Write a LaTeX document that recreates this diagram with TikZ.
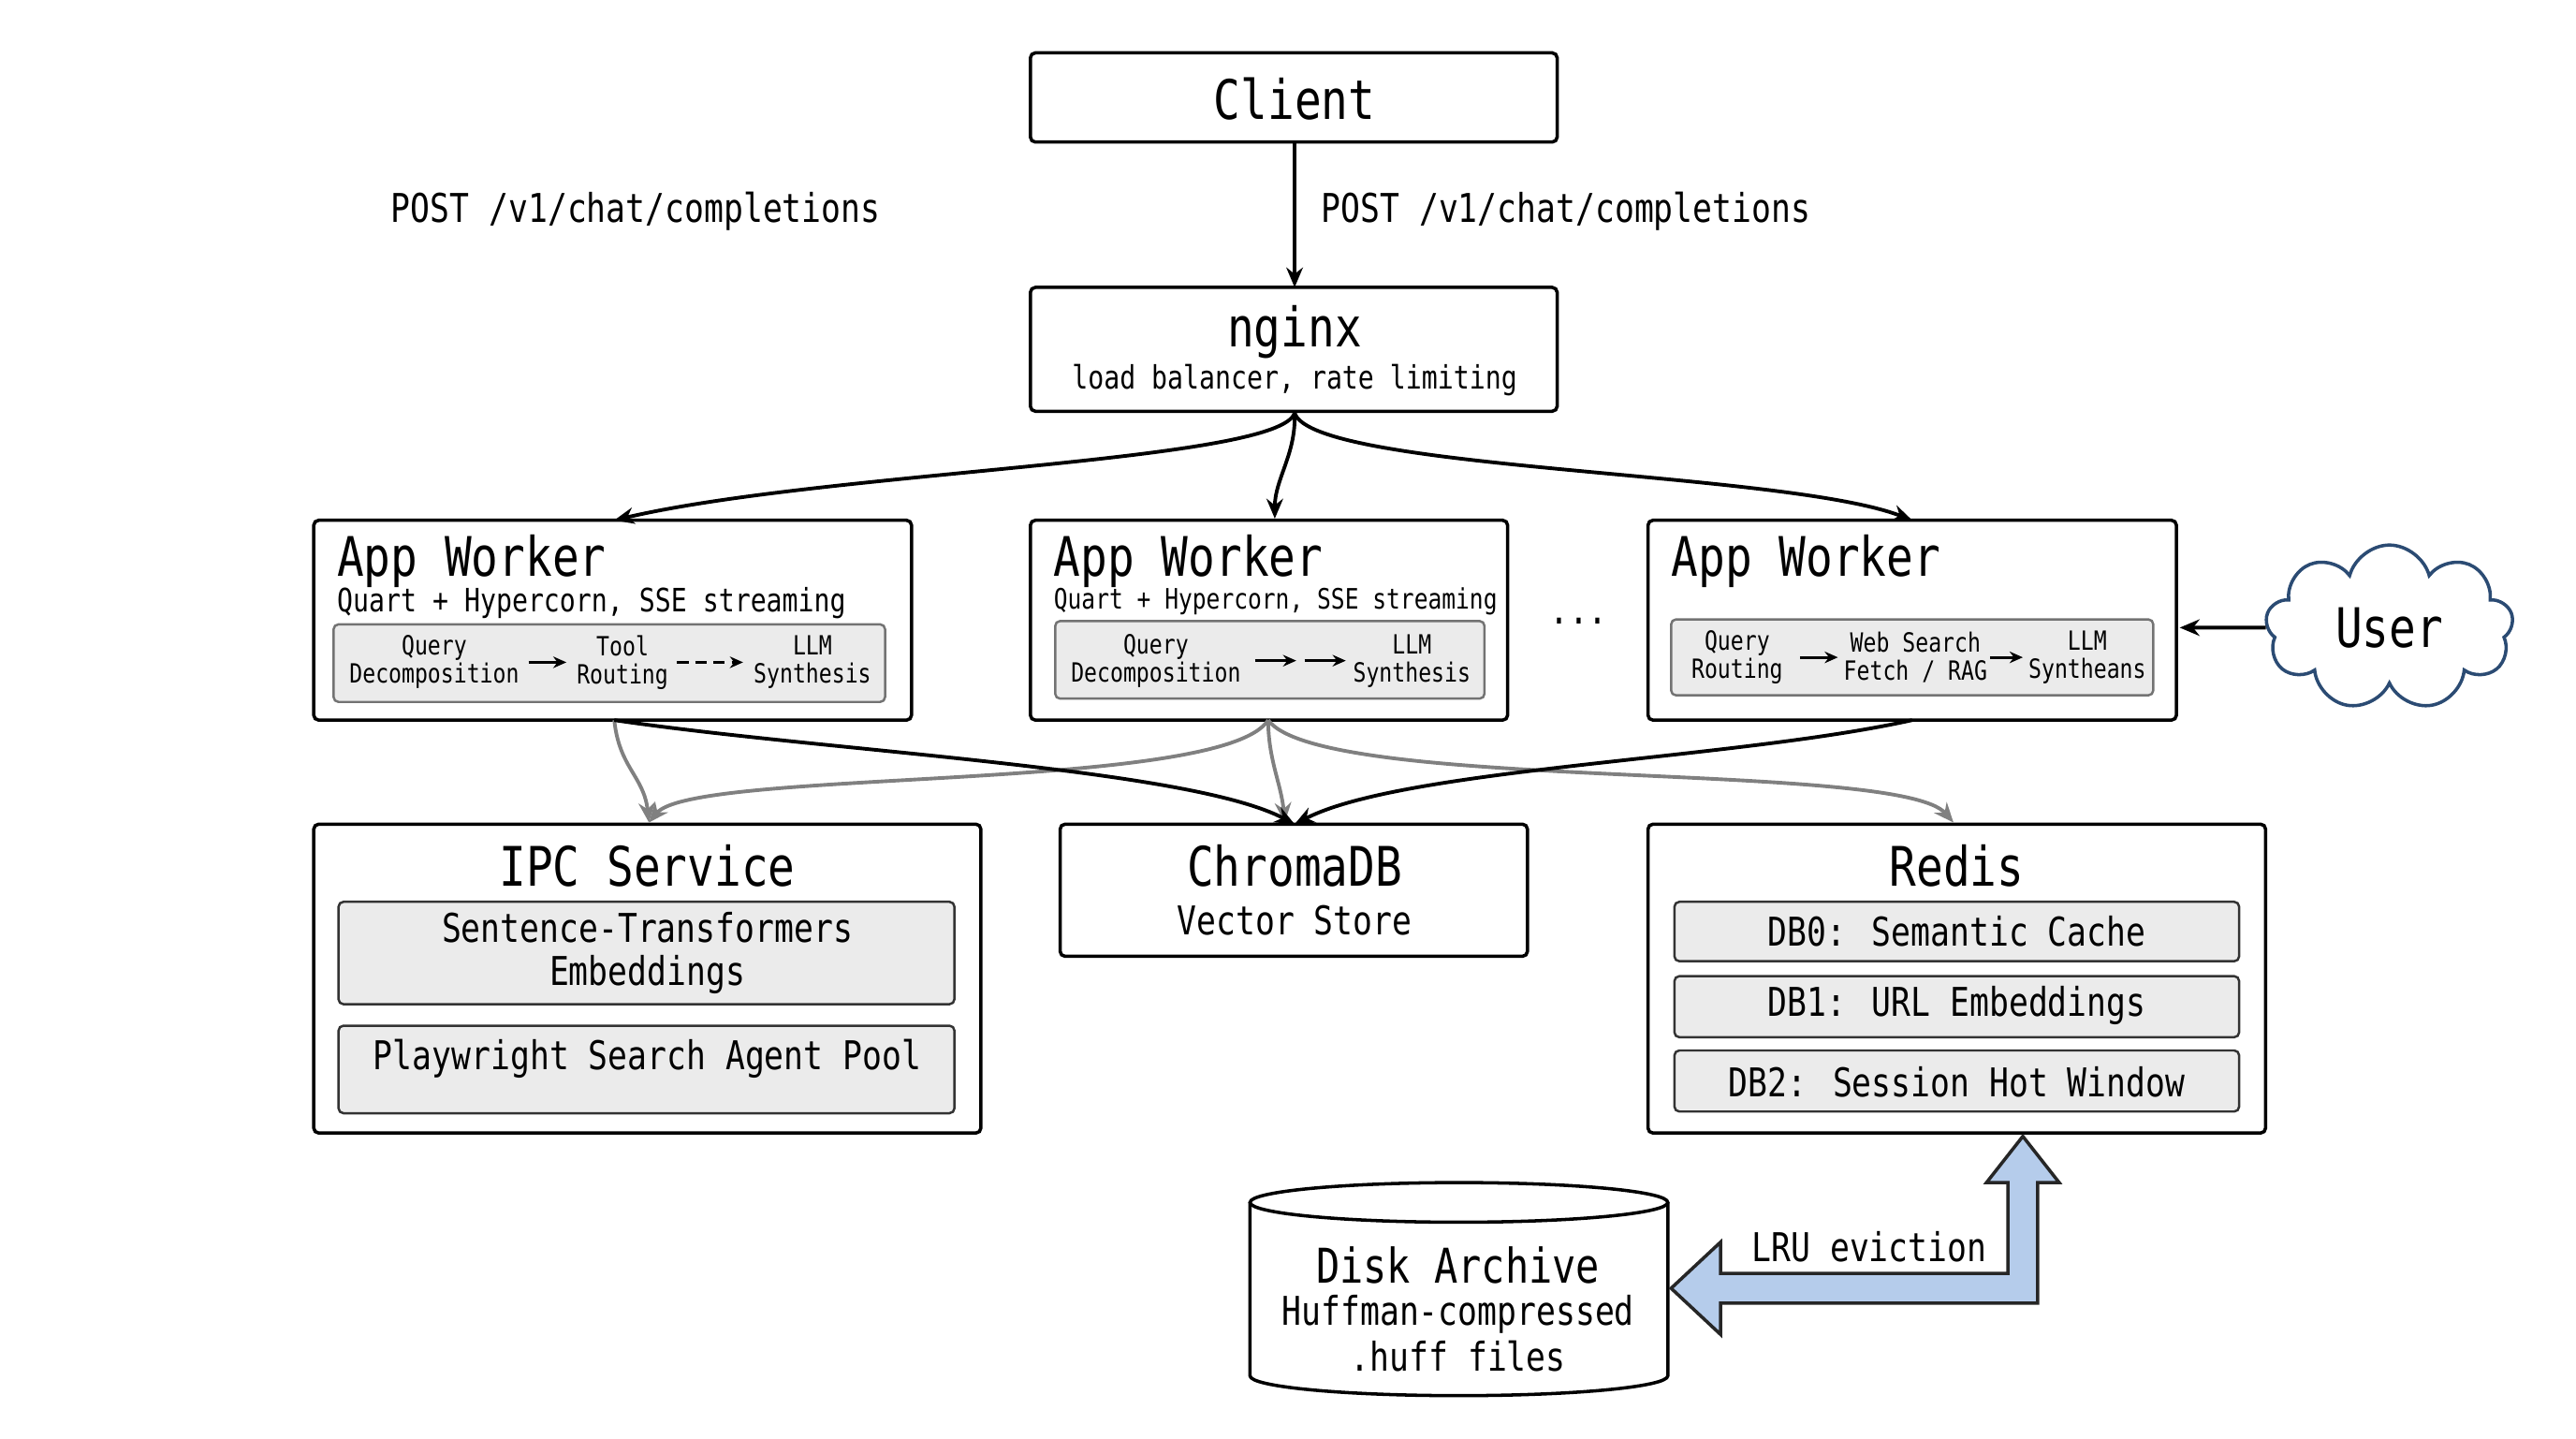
\documentclass[tikz,border=0pt]{standalone}
\usepackage{fontspec}
\setmainfont{DejaVu Sans Mono}[FakeStretch=0.82]
\usetikzlibrary{shapes.symbols,shapes.geometric,shapes.arrows,arrows.meta}
\definecolor{navy}{HTML}{2B4B73}
\definecolor{lblue}{HTML}{B5CCEB}
\begin{document}
\begin{tikzpicture}[x=1pt,y=-1pt,
  box/.style={draw,line width=2pt,rounded corners=3pt,fill=white},
  inner/.style={draw=black!55,line width=1.4pt,rounded corners=3pt,fill=black!8},
  stg/.style={font=\fontsize{16}{17}\selectfont,align=center,inner sep=0pt},
  sarr/.style={-{Stealth[length=8pt,width=7pt]},line width=1.6pt},
  blk/.style={-{Stealth[length=12pt,width=10pt]},line width=2.2pt},
  gry/.style={-{Stealth[length=12pt,width=10pt]},line width=2.2pt,draw=black!50},
  t1/.style={font=\fontsize{33}{35}\selectfont,inner sep=0pt},
  t2/.style={font=\fontsize{24}{26}\selectfont,inner sep=0pt},
  t3/.style={font=\fontsize{19.5}{21}\selectfont,inner sep=0pt}]
\useasboundingbox (0,0) rectangle (1560,871);
% boxes
\draw[box] (624,32) rectangle (943,86); \node[t1] (client) at (784,60) {Client};
\coordinate (cb) at (784,86);
\draw[box] (624,174) rectangle (943,249);
\node[t1] (ngx) at (784,201) {nginx};
\node[t3] at (784,230) {load balancer, rate limiting};
\coordinate (nt) at (784,174); \coordinate (nb) at (784,250);
\node[t2] at (385,128) {POST /v1/chat/completions};
\node[t2,anchor=west] at (800,128) {POST /v1/chat/completions};
% worker 1
\draw[box] (190,315) rectangle (552,436);
\node[t1,anchor=west] at (204,340) {App Worker};
\node[t3,anchor=west] at (204,365) {Quart + Hypercorn, SSE streaming};
\draw[inner] (202,378) rectangle (536,425);
\node[stg] (a1) at (263,401) {Query\\Decomposition};
\node[stg] (a2) at (377,401) {Tool\\Routing};
\node[stg] (a3) at (492,401) {LLM\\Synthesis};
\draw[sarr] (320,401) -- (343,401);
\draw[sarr,dash pattern=on 7pt off 4pt] (410,401) -- (450,401);
% worker 2
\draw[box] (624,315) rectangle (913,436);
\node[t1,anchor=west] at (638,340) {App Worker};
\node[t3,anchor=west] at (638,364) {\fontsize{17}{18}\selectfont Quart + Hypercorn, SSE streaming};
\draw[inner] (639,376) rectangle (899,423);
\node[stg] (b1) at (700,400) {Query\\Decomposition};
\node[stg] (b3) at (855,400) {LLM\\Synthesis};
\draw[sarr] (760,400) -- (785,400);
\draw[sarr] (790,400) -- (815,400);
\node[t2] (dots) at (956,376) {...};
% worker 3
\draw[box] (998,315) rectangle (1318,436);
\node[t1,anchor=west] at (1012,340) {App Worker};
\draw[inner] (1012,375) rectangle (1304,421);
\node[stg] (c1) at (1052,398) {Query\\Routing};
\node[stg] (c2) at (1160,398) {Web Search\\Fetch / RAG};
\node[stg] (c3) at (1264,398) {LLM\\Syntheans};
\draw[sarr] (1090,398) -- (1113,398);
\draw[sarr] (1205,398) -- (1225,398);
\node[cloud,cloud puffs=9,aspect=1.45,draw=navy,line width=2pt,minimum width=150pt,minimum height=100pt,t1,fill=white] (user) at (1447,380) {User};
\draw[blk] (user.west) -- (1320,380);
% IPC
\draw[box] (190,499) rectangle (594,686);
\node[t1] (ipc) at (392,524) {IPC Service};
\draw[inner,draw=black!80] (205,546) rectangle (578,608);
\node[t2,align=center] at (392,577) {Sentence-Transformers\\Embeddings};
\draw[inner,draw=black!80] (205,621) rectangle (578,674);
\node[t2] at (392,641) {Playwright Search Agent Pool};
% Chroma
\draw[box] (642,499) rectangle (925,579);
\node[t1] (chroma) at (784,524) {ChromaDB};
\node[t2] at (784,557) {Vector Store};
% Redis
\draw[box] (998,499) rectangle (1372,686);
\node[t1] (redis) at (1185,524) {Redis};
\draw[inner,draw=black!80] (1014,546) rectangle (1356,582); \node[t2] at (1185,564) {DB0: Semantic Cache};
\draw[inner,draw=black!80] (1014,591) rectangle (1356,628); \node[t2] at (1185,609) {DB1: URL Embeddings};
\draw[inner,draw=black!80] (1014,636) rectangle (1356,673); \node[t2] at (1185,655) {DB2: Session Hot Window};
% edges
\draw[blk] (cb) -- (nt);
\draw[blk] (nb) .. controls (775,280) and (500,285) .. (372,315);
\draw[blk] (nb) .. controls (785,275) and (772,290) .. (772,314);
\draw[blk] (nb) .. controls (795,285) and (1080,285) .. (1158,315);
\draw[gry] (372,436) .. controls (375,465) and (390,470) .. (393,498);
\draw[gry] (768,436) .. controls (740,480) and (420,465) .. (393,498);
\draw[gry] (768,436) .. controls (768,460) and (776,475) .. (778,498);
\draw[gry] (768,436) .. controls (800,480) and (1150,460) .. (1183,498);
\draw[blk] (372,436) .. controls (500,455) and (720,465) .. (784,499);
\draw[blk] (1158,436) .. controls (1050,460) and (850,465) .. (784,499);
% disk
\draw[line width=2pt,fill=white] (757,728) -- (757,833) arc[start angle=180,end angle=360,x radius=126.5,y radius=-12] -- (1010,728);
\draw[line width=2pt,fill=white] (883.5,728) ellipse[x radius=126.5,y radius=12];
\node[t1,font=\fontsize{29}{31}\selectfont] (disk) at (883,766) {Disk Archive};
\node[t2] at (883,796) {Huffman-compressed};
\node[t2] at (883,821) {.huff files};
% fat arrow
\draw[line width=2pt,fill=lblue,draw=black!85]
 (1012,780) -- (1042,752) -- (1042,771) -- (1216,771) -- (1216,716) -- (1203,716) -- (1225,688) -- (1247,716) -- (1234,716) -- (1234,789) -- (1042,789) -- (1042,808) -- cycle;
\node[t2] (lru) at (1132,755) {LRU eviction};
\end{tikzpicture}
\end{document}
